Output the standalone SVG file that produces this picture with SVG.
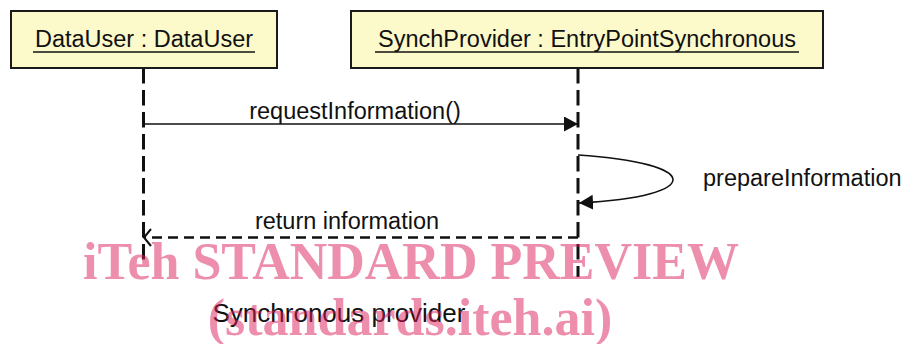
<svg xmlns="http://www.w3.org/2000/svg" width="906" height="344" viewBox="0 0 906 344">
  <defs>
    <style>
      .box { fill: #fcf9ca; stroke: #1a1a1a; stroke-width: 2; }
      .name { font-family: "Liberation Sans", Arial, sans-serif; font-size: 23.5px; fill: #111; text-anchor: middle; }
      .uline { stroke: #111; stroke-width: 1.6; }
      .lifeline { stroke: #111; stroke-width: 3; stroke-dasharray: 15.5 6.5; fill: none; }
      .msg { stroke: #111; stroke-width: 1.6; fill: none; }
      .ret { stroke: #111; stroke-width: 2.5; stroke-dasharray: 10 6; fill: none; }
      .label { font-family: "Liberation Sans", Arial, sans-serif; font-size: 23.5px; fill: #111; }
      .caption { font-family: "Liberation Sans", Arial, sans-serif; font-size: 26px; fill: #111; text-anchor: middle; }
      .mark { font-family: "Liberation Serif", "Times New Roman", serif; font-weight: bold; font-size: 52px; fill: #dc1e5a; fill-opacity: 0.5; text-anchor: middle; }
    </style>
    <marker id="filled" markerUnits="userSpaceOnUse" markerWidth="16" markerHeight="16" refX="14" refY="7.5" orient="auto">
      <path d="M0,0 L14,7.5 L0,15 Z" fill="#111"/>
    </marker>
    <marker id="open" markerUnits="userSpaceOnUse" markerWidth="12" markerHeight="20" refX="8" refY="9" orient="auto">
      <path d="M1,0.5 L8,9 L1,17.5" fill="none" stroke="#111" stroke-width="2"/>
    </marker>
  </defs>

  <rect width="906" height="344" fill="#ffffff"/>

  <!-- lifelines -->
  <g id="lifelines">
    <line class="lifeline" x1="143.5" y1="68" x2="143.5" y2="266"/>
    <line class="lifeline" x1="578" y1="68" x2="578" y2="277"/>
  </g>

  <!-- participants -->
  <g id="dataUser">
    <rect class="box" x="11" y="11" width="266" height="57"/>
    <text class="name" x="144" y="47">DataUser : DataUser</text>
    <line class="uline" x1="33" y1="52" x2="255" y2="52"/>
  </g>
  <g id="synchProvider">
    <rect class="box" x="351" y="11" width="472" height="57"/>
    <text class="name" x="587" y="47">SynchProvider : EntryPointSynchronous</text>
    <line class="uline" x1="375" y1="52" x2="799" y2="52"/>
  </g>

  <!-- messages -->
  <g id="connectors">
    <line class="msg" x1="144" y1="124" x2="578" y2="124" marker-end="url(#filled)"/>
    <path class="msg" d="M578,155 C702,163 707,196 579,203" marker-end="url(#filled)"/>
    <line class="ret" x1="578" y1="237.5" x2="144" y2="237.5" marker-end="url(#open)"/>
  </g>

  <g id="labels">
    <text class="label" x="355" y="119" text-anchor="middle">requestInformation()</text>
    <text class="label" x="703" y="186">prepareInformation</text>
    <text class="label" x="347" y="229" text-anchor="middle">return information</text>
  </g>

  <text class="caption" x="339" y="322">Synchronous provider</text>

  <!-- overlay text -->
  <g id="overlay">
    <text class="mark" x="411" y="279">iTeh STANDARD PREVIEW</text>
    <text class="mark" x="410" y="335">(standards.iteh.ai)</text>
  </g>
</svg>
